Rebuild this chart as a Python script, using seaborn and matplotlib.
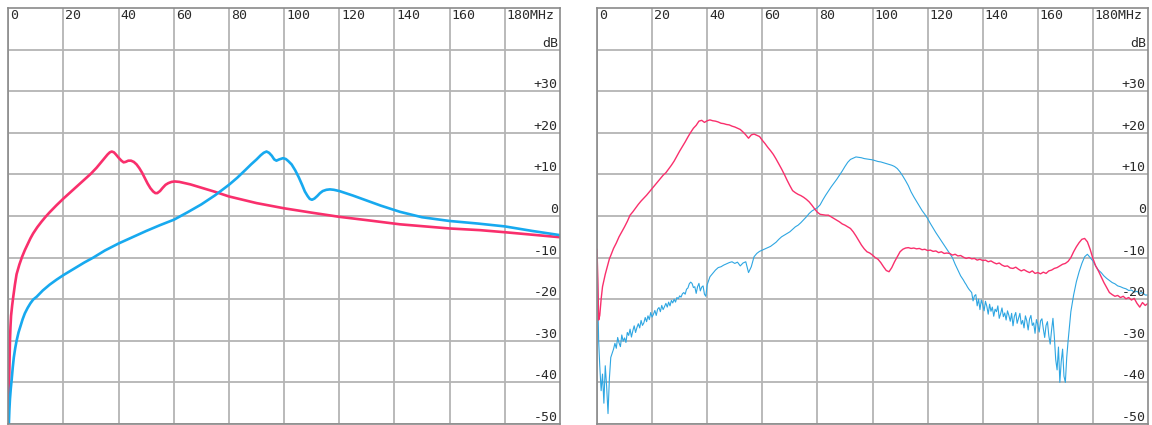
import numpy as np
import pandas as pd
import matplotlib
matplotlib.use("Agg")
import matplotlib.pyplot as plt
import seaborn as sns

# ---------------- data ----------------
x_ticks = [0, 20, 40, 60, 80, 100, 120, 140, 160, 180]
x_tick_labels = ["0", "20", "40", "60", "80", "100", "120", "140", "160", "180MHz"]
y_ticks = [40, 30, 20, 10, 0, -10, -20, -30, -40, -50]
y_tick_labels = ["dB", "+30", "+20", "+10", "0", "-10", "-20", "-30", "-40", "-50"]

# left panel (simulated responses)
sim_pink_x = [0, 0.15, 0.3, 0.45, 0.6, 0.8, 1.0, 1.4, 1.8, 2.4, 3, 4, 5, 6, 7, 8, 9, 10.5, 12,
              13.5, 15, 17.5, 20, 22.5, 25, 27.5, 30, 32, 33, 34, 35, 36, 36.8, 37.5, 38.3,
              39, 40, 41, 41.8, 42.5, 43.5, 44.5, 45.5, 46.5, 47.5, 48.5, 49.5, 50.5, 51.5,
              52.5, 53.3, 54, 55, 56, 57, 58, 59.2, 60.4, 62, 64, 66, 70, 75, 80, 90, 100,
              110, 120, 130, 142, 160, 171, 180, 190, 200]
sim_pink_y = [-50, -45, -40, -35, -30, -26.5, -24, -21.5, -19.4, -16.5, -14, -11.7, -9.8,
              -8.2, -6.8, -5.4, -4.2, -2.7, -1.4, -0.2, 0.9, 2.6, 4.2, 5.7, 7.2, 8.7, 10.2,
              11.6, 12.4, 13.2, 14.0, 14.8, 15.3, 15.5, 15.3, 14.8, 14.0, 13.3, 12.9, 13.0,
              13.3, 13.3, 13.0, 12.4, 11.5, 10.4, 9.1, 7.8, 6.7, 5.9, 5.5, 5.5, 6.0, 6.8,
              7.5, 7.9, 8.2, 8.3, 8.2, 7.9, 7.6, 6.8, 5.8, 4.7, 3.1, 1.85, 0.8, -0.2, -1.0,
              -2.0, -3.0, -3.4, -3.9, -4.5, -5.1]
sim_blue_x = [0.2, 0.4, 0.6, 0.9, 1.2, 1.6, 2, 2.5, 3, 3.7, 4.5, 5.2, 6, 7, 8, 9, 10.3, 12.5,
              15, 17.5, 20, 22.5, 25, 27.5, 30.8, 35, 40, 45, 50, 55, 60, 65, 70, 75, 80, 83,
              86, 88, 90, 91.5, 92.6, 93.6, 94.5, 95.5, 96.4, 97.2, 98.2, 99.6, 100.6, 101.5,
              102.7, 104, 105.3, 106.5, 107.5, 108.5, 109.3, 110.1, 111, 112, 113, 114, 115.3,
              116.6, 118, 120, 125, 130, 135, 142, 150, 160, 170, 180, 190, 200]
sim_blue_y = [-50, -46.5, -44, -41.5, -39.5, -36.5, -34, -31.8, -30, -28, -26.3, -24.8, -23.4,
              -22.1, -21, -20.1, -19.4, -17.9, -16.5, -15.3, -14.2, -13.2, -12.2, -11.2, -10,
              -8.3, -6.6, -5.1, -3.6, -2.2, -0.9, 0.9, 2.8, 5.0, 7.5, 9.2, 11.1, 12.4, 13.6,
              14.6, 15.2, 15.5, 15.2, 14.5, 13.6, 13.3, 13.6, 13.9, 13.7, 13.2, 12.4, 11.0,
              9.3, 7.5, 5.9, 4.8, 4.1, 3.9, 4.2, 4.8, 5.5, 6.0, 6.3, 6.4, 6.3, 6.0, 4.9, 3.7,
              2.5, 1.0, -0.3, -1.2, -1.8, -2.5, -3.6, -4.6]

# right panel (measured responses)
meas_pink_x = [0, 0.3, 0.6, 1, 1.5, 2, 2.5, 3, 3.5, 4, 4.5, 5] + list(range(6, 201))
meas_pink = [-8, -15, -25, -23.9, -20, -17, -15.5, -14, -12.8, -11.5, -10.3, -9.5,
    -7.8, -6.5, -5.0, -3.8, -2.6, -1.3, 0.2, 1.0, 1.9, 2.8, 3.6, 4.3, 5.0, 5.8,  # 6-19
    6.6, 7.4, 8.2, 9.0, 9.8, 10.4, 11.3, 12.2, 13.2, 14.4,                        # 20-29
    15.6, 16.7, 17.8, 19.0, 20.1, 21.1, 21.8, 22.8, 23.0, 22.5,                   # 30-39
    22.9, 23.1, 22.9, 22.8, 22.6, 22.3, 22.2, 22.0, 21.9, 21.6,                   # 40-49
    21.4, 21.1, 20.8, 20.2, 19.5, 18.7, 19.5, 19.7, 19.4, 19.1,                   # 50-59
    18.2, 17.4, 16.5, 15.7, 14.8, 13.7, 12.5, 11.3, 10.0, 8.6,                    # 60-69
    7.3, 6.1, 5.6, 5.2, 4.9, 4.5, 4.0, 3.4, 2.6, 1.7,                             # 70-79
    0.9, 0.4, 0.3, 0.2, 0.2, -0.2, -0.6, -1.0, -1.4, -1.9,                        # 80-89
    -2.2, -2.6, -3.0, -3.8, -4.8, -5.9, -7.0, -7.9, -8.6, -8.9,                   # 90-99
    -9.4, -10.0, -10.4, -11.2, -12.2, -13.1, -13.4, -12.4, -11.0, -9.8,           # 100-109
    -8.6, -8.0, -7.7, -7.6, -7.8, -7.7, -7.9, -7.8, -8.1, -8.0,                   # 110-119
    -8.3, -8.2, -8.5, -8.4, -8.8, -8.6, -9.0, -8.9, -9.0, -9.4,                   # 120-129
    -9.2, -9.6, -9.5, -9.9, -10.2, -10.0, -10.3, -10.2, -10.6, -10.4,             # 130-139
    -10.7, -10.6, -11.0, -10.8, -11.2, -11.5, -11.3, -11.8, -12.1, -12.0,         # 140-149
    -12.5, -12.6, -12.3, -12.8, -13.2, -12.9, -13.3, -13.6, -13.2, -13.8,         # 150-159
    -13.6, -13.9, -13.5, -13.8, -13.2, -13.0, -12.6, -12.4, -12.0, -11.6,         # 160-169
    -11.4, -10.9, -10.0, -8.6, -7.4, -6.4, -5.6, -5.4, -6.2, -8.0,                # 170-179
    -10.2, -12.0, -13.2, -14.6, -16.0, -17.2, -18.4, -18.9, -19.3, -19.1,         # 180-189
    -19.6, -19.3, -19.9, -19.6, -20.2, -19.8, -21.0, -21.9, -20.8, -21.5,         # 190-199
    -21.0]

meas_blue_x = ([0, 0.3, 0.6, 1, 1.5, 2, 2.5, 3, 3.5, 4, 4.5, 5]
               + [6 + 0.5 * i for i in range(69)]
               + list(range(41, 130))
               + [130 + 0.5 * i for i in range(85)]
               + list(range(173, 201)))
meas_blue = [-8, -20, -30, -36, -42, -38, -45, -36, -41, -47.5, -39, -34,
    # 6 .. 40 step 0.5
    -32.0, -30.6, -31.8, -29.2, -30.5, -31.4, -28.6, -30.1, -29.3, -30.4,
    -28.0, -28.7, -27.2, -29.1, -27.6, -26.4, -28.0, -26.8, -25.9, -26.9,
    -25.1, -26.3, -25.7, -24.4, -25.4, -24.0, -24.9, -23.2, -24.3, -23.6,
    -22.7, -23.9, -22.4, -22.0, -23.0, -21.5, -22.5, -21.8, -21.0, -21.9,
    -20.7, -21.6, -20.3, -20.9, -20.0, -20.7, -19.6, -19.9, -19.2, -19.5,
    -18.7, -18.4, -18.8, -17.6, -17.3, -16.3, -15.9, -16.2, -17.2, -17.0,
    -18.6, -17.0, -16.2, -18.0, -17.1, -16.8, -18.8, -19.3, -16.5,
    # 41 .. 129
    -14.6, -13.8, -13.0, -12.4, -12.2, -11.8, -11.5, -11.2, -11.0,                # 41-49
    -11.4, -11.1, -12.0, -11.3, -11.0, -13.6, -12.2, -9.8, -9.0, -8.5,            # 50-59
    -8.2, -7.9, -7.6, -7.3, -6.8, -6.3, -5.6, -5.0, -4.6, -4.2,                   # 60-69
    -3.8, -3.2, -2.6, -2.2, -1.6, -0.9, -0.2, 0.6, 1.2, 1.6,                      # 70-79
    2.0, 2.7, 3.9, 5.0, 6.0, 7.0, 7.9, 8.8, 9.8, 10.8,                            # 80-89
    11.9, 12.9, 13.6, 13.9, 14.2, 14.1, 14.0, 13.8, 13.7, 13.6,                   # 90-99
    13.5, 13.3, 13.1, 13.0, 12.8, 12.6, 12.4, 12.2, 11.9, 11.4,                   # 100-109
    10.6, 9.6, 8.5, 7.3, 5.8, 4.6, 3.5, 2.4, 1.3, 0.4,                            # 110-119
    -0.6, -1.8, -2.9, -4.0, -5.0, -6.0, -7.0, -8.0, -9.0, -10.0,                  # 120-129
    # 130 .. 172 step 0.5
    -11.6, -12.3, -13.0, -13.7, -14.4, -14.9, -15.4, -16.0, -16.5, -17.1,
    -17.6, -18.0, -18.4, -20.4, -19.2, -18.9, -21.6, -20.0, -22.5, -20.2,
    -21.3, -22.8, -20.5, -21.7, -23.6, -21.2, -22.9, -21.9, -24.1, -22.4,
    -23.0, -21.6, -24.6, -23.5, -22.1, -24.2, -23.3, -25.0, -22.8, -23.9,
    -25.3, -23.4, -26.4, -24.1, -23.2, -25.8, -24.6, -23.4, -26.0, -25.1,
    -26.9, -24.0, -25.2, -27.4, -24.8, -23.9, -26.3, -25.7, -28.2, -24.9,
    -26.1, -27.9, -25.2, -24.7, -27.1, -29.2, -26.3, -25.4, -28.8, -30.8,
    -27.4, -24.6, -29.0, -34.5, -37.0, -31.5, -40.0, -35.0, -32.0, -38.5,
    -40.0, -34.0, -30.0, -26.5, -23.0,
    # 173 .. 200
    -19.0, -15.8, -13.4, -11.4, -9.8, -9.2, -10.0,                                # 173-179
    -10.8, -12.0, -13.0, -13.6, -14.4, -15.0, -15.5, -16.0, -16.3, -16.8,         # 180-189
    -17.0, -17.3, -17.5, -17.9, -17.8, -18.3, -18.1, -18.6, -18.4, -19.0,         # 190-199
    -19.0]

PINK = "#f92f6c"
BLUE = "#17a9ef"
BLUE_THIN = "#2ea6e2"
GRID = "#b4b4b4"
FRAME = "#8a8a8a"
TEXT = "#2a2a2a"

sns.set_style("white")
plt.rcParams["font.family"] = ["DejaVu Sans Mono", "DejaVu Sans"]

fig = plt.figure(figsize=(11.52, 4.25), dpi=100)
W, H = 1152, 425
ax_l = fig.add_axes([8.3 / W, 1.0 / H, 551.7 / W, 416 / H])
ax_r = fig.add_axes([597 / W, 1.0 / H, 551 / W, 416 / H])


def style(ax):
    ax.set_xlim(0, 200)
    ax.set_ylim(-50, 50)
    ax.set_xticks(x_ticks)
    ax.set_yticks(y_ticks)
    ax.grid(True, color=GRID, linewidth=1.3)
    ax.tick_params(length=0, labelbottom=False, labelleft=False)
    ax.set_xlabel("")
    ax.set_ylabel("")
    for s in ax.spines.values():
        s.set_color(FRAME)
        s.set_linewidth(1.2)
    for xv, lbl in zip(x_ticks, x_tick_labels):
        ax.annotate(lbl, xy=(xv, 50), xycoords="data", xytext=(1.4, -1.0),
                    textcoords="offset points", ha="left", va="top",
                    fontsize=9.5, color=TEXT)
    for yv, lbl in zip(y_ticks, y_tick_labels):
        ax.annotate(lbl, xy=(200, yv), xycoords="data", xytext=(-1.6, 2.2),
                    textcoords="offset points", ha="right", va="baseline",
                    fontsize=9.5, color=TEXT)


df_lp = pd.DataFrame({"f": sim_pink_x, "db": sim_pink_y})
df_lb = pd.DataFrame({"f": sim_blue_x, "db": sim_blue_y})
sns.lineplot(data=df_lp, x="f", y="db", ax=ax_l, color=PINK, linewidth=1.9,
             estimator=None, sort=False)
sns.lineplot(data=df_lb, x="f", y="db", ax=ax_l, color=BLUE, linewidth=1.9,
             estimator=None, sort=False)

df_rb = pd.DataFrame({"f": meas_blue_x, "db": meas_blue})
df_rp = pd.DataFrame({"f": meas_pink_x, "db": meas_pink})
sns.lineplot(data=df_rb, x="f", y="db", ax=ax_r, color=BLUE_THIN, linewidth=0.8,
             estimator=None, sort=False)
sns.lineplot(data=df_rp, x="f", y="db", ax=ax_r, color=PINK, linewidth=1.0,
             estimator=None, sort=False)

style(ax_l)
style(ax_r)

fig.savefig("out.png", dpi=100, facecolor="white")
